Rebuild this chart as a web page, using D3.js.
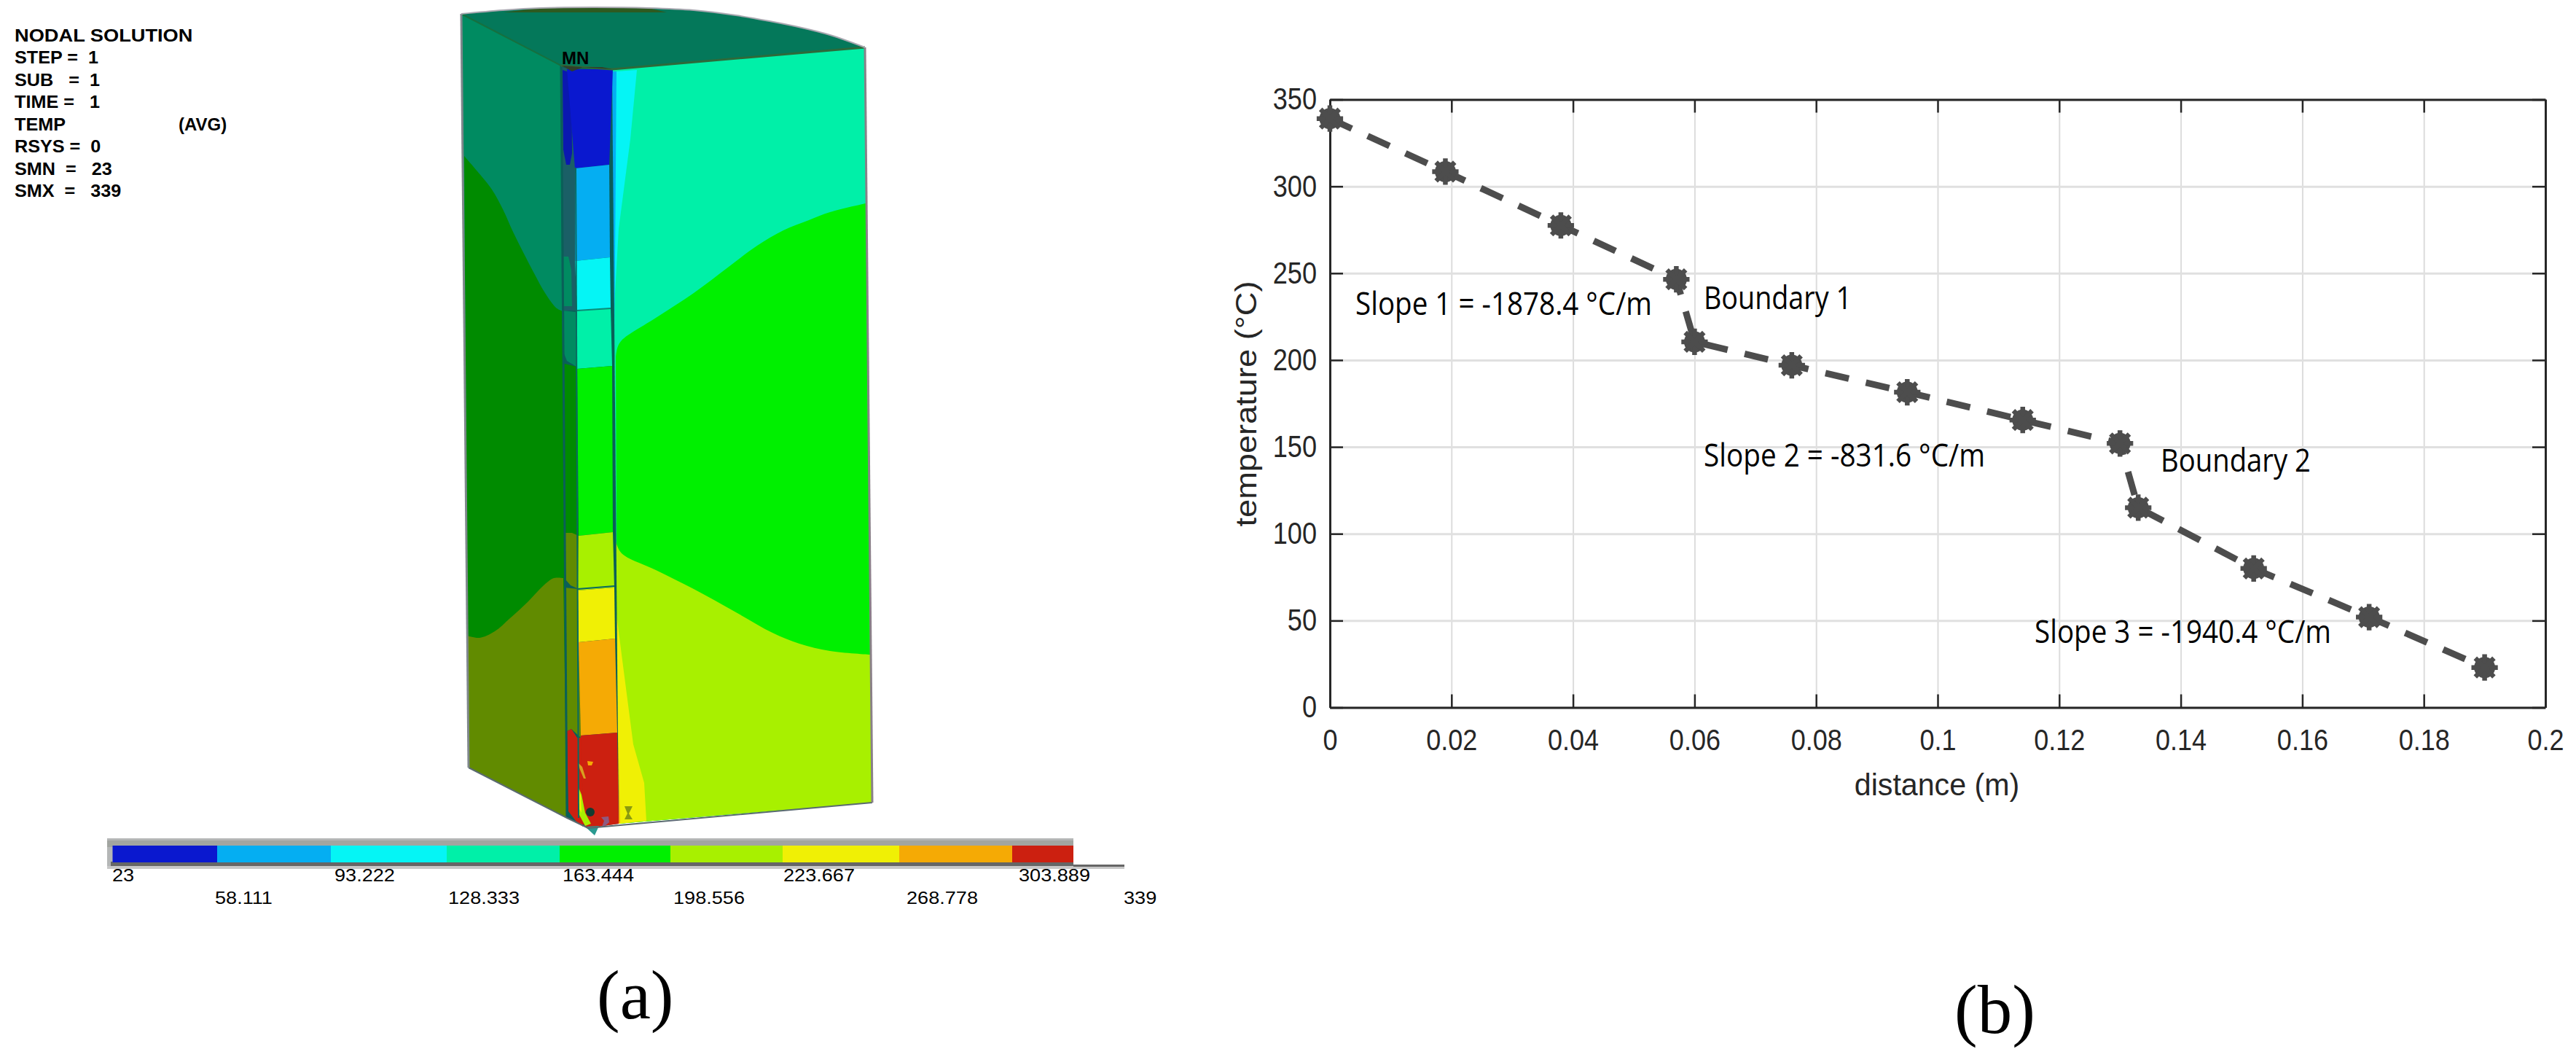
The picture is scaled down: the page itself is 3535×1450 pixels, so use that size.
<!DOCTYPE html>
<html>
<head>
<meta charset="utf-8">
<script src="https://cdn.jsdelivr.net/npm/d3@7"></script>
<style>
  html, body { margin: 0; padding: 0; background: #fff; }
  svg { display: block; }
  text { white-space: pre; }
</style>
</head>
<body>
<div id="chart"></div>
<script>
// temperature profile (panel b)
var distance = [0, 0.019, 0.038, 0.057, 0.06, 0.076, 0.095, 0.114, 0.13, 0.133, 0.152, 0.171, 0.19];
var temperature = [339, 308.5, 277.5, 246.5, 210.5, 197, 181.5, 165.5, 152, 115, 80, 52, 23];
var xTicks = [0, 0.02, 0.04, 0.06, 0.08, 0.1, 0.12, 0.14, 0.16, 0.18, 0.2];
var xTickLabels = ['0', '0.02', '0.04', '0.06', '0.08', '0.1', '0.12', '0.14', '0.16', '0.18', '0.2'];
var yTicks = [0, 50, 100, 150, 200, 250, 300, 350];
var slopeNotes = ['Slope 1 = -1878.4 °C/m', 'Boundary 1', 'Slope 2 = -831.6 °C/m', 'Boundary 2', 'Slope 3 = -1940.4 °C/m'];

// contour legend (panel a)
var bandValues = [23, 58.111, 93.222, 128.333, 163.444, 198.556, 233.667, 268.778, 303.889, 324];
var bandColors = ['#0a18cf', '#05aef2', '#05f5f5', '#00f0a8', '#00f000', '#a8f000', '#f0f005', '#f5aa05', '#cc2010'];
var bandLabels = ['23', '58.111', '93.222', '128.333', '163.444', '198.556', '223.667', '268.778', '303.889', '339'];
var headerLines = ['NODAL SOLUTION', 'STEP =  1', 'SUB   =  1', 'TIME =   1', 'TEMP', 'RSYS =  0', 'SMN  =   23', 'SMX  =   339'];

// FEA outline, in page pixels
var leftFaceOutline = [[633, 19], [770, 90], [778, 1122], [643, 1053]];
var topArc = [[633, 19], [690, 14], [741, 11], [815, 10], [890, 11], [952, 14], [1010, 21], [1056, 29], [1100, 38], [1139, 48], [1187, 65]];
var rightFaceOutline = [[840, 95], [1187, 65], [1197, 1101], [848, 1130]];
var columnBase = [[770, 90], [840, 95], [849, 1130], [807, 1136], [778, 1122]];
var leftGreenContour = [[637, 214], [655, 235], [675, 260], [690, 287], [704, 318], [720, 350], [733, 375], [748, 402], [764, 423], [773, 427]];
var leftOliveContour = [[641, 872], [658, 875], [679, 866], [700, 848], [724, 826], [745, 804], [760, 793], [773, 793]];
var rightGreenContour = [[845, 490], [847, 478], [853, 467], [900, 436], [952, 402], [1000, 366], [1039, 337], [1075, 316], [1110, 302], [1139, 291], [1188, 279]];
var rightLimeContour = [[845, 743], [853, 759], [900, 782], [952, 808], [1010, 840], [1060, 868], [1097, 883], [1139, 893], [1194, 898]];
var cyanWedge = [[845, 98], [874, 96], [865, 191], [849, 314], [843, 420]];
var blueSliver = [[840, 98], [846, 98], [843, 480], [841, 480]];
var yellowWedge = [[845, 835], [853, 898], [869, 1021], [884, 1074], [887, 1126], [848, 1130]];
var orangeSliver = [[845, 860], [848, 1000], [851, 1129], [847, 1130]];
var columnBands = [
  { band: 0, top: [[778, 95], [841, 95]] },
  { band: 1, top: [[789, 231], [836, 226]] },
  { band: 2, top: [[789, 358], [837, 353]] },
  { band: 3, top: [[792, 426], [838, 423]] },
  { band: 4, top: [[792, 506], [840, 502]] },
  { band: 5, top: [[794, 735], [841, 730]] },
  { band: 6, top: [[793, 810], [843, 806]] },
  { band: 7, top: [[794, 881], [844, 876]] },
  { band: 8, top: [[797, 1009], [847, 1005]] }
];
var columnFoot = [[849, 1130], [807, 1136], [790, 1122]];
var stripDarkTeal = [[770, 92], [790, 96], [791, 426], [771, 426]];
var stripBlue = [[772, 96], [784, 100], [785, 210], [782, 226], [777, 226], [773, 205]];
var stripTealUpper = [[772, 352], [780, 352], [784, 370], [785, 420], [774, 420], [771, 390]];
var stripTealLower = [[771, 426], [791, 428], [791, 503], [778, 495], [772, 480]];
var stripGreen = [[771, 498], [791, 503], [794, 735], [774, 735]];
var stripOliveOval = [[775, 731], [785, 731], [794, 735], [794, 808], [783, 803], [776, 795], [774, 770]];
var stripOlive = [[774, 806], [794, 808], [797, 1012], [784, 1000], [778, 1003]];
var stripRed = [[778, 1003], [784, 1000], [792, 1012], [798, 1012], [800, 1134], [790, 1126], [780, 1113]];
var topSliver = [[691, 17], [741, 11], [890, 11], [915, 17]];
var flameLime = [[793, 1078], [798, 1090], [803, 1115], [811, 1130], [803, 1133], [795, 1118]];
var flameYellow = [[793, 1078], [797, 1092], [798, 1115], [795, 1110]];
var curlOrange = [[793, 1046], [799, 1052], [804, 1068], [801, 1068], [796, 1056]];
var dotOrange = [[806, 1044], [814, 1045], [812, 1050], [807, 1050]];
var triadMark = [[857, 1106], [868, 1106], [863, 1116], [868, 1124], [857, 1124], [861, 1116]];
var purpleMark = [[825, 1121], [835, 1120], [836, 1128], [830, 1133], [826, 1134], [829, 1126]];
var tailMark = [[803, 1134], [822, 1133], [816, 1146]];

var width = 3535;
var height = 1450;

var svg = d3.select('#chart').append('svg')
  .attr('width', width)
  .attr('height', height)
  .attr('viewBox', '0 0 ' + width + ' ' + height);

// squeeze or stretch text the way the source artwork did
function fit(selection, k){
  selection.each(function(){
    var len = this.getComputedTextLength();
    d3.select(this).attr('textLength', len * k).attr('lengthAdjust', 'spacingAndGlyphs');
  });
}

function shade(color, k){
  var c = d3.rgb(color);
  return d3.rgb(c.r * k, c.g * k, c.b * k).formatHex();
}

var poly = d3.line();
var smooth = d3.line().curve(d3.curveCatmullRom);

function fillPoly(g, pts, color){
  return g.append('path').attr('d', poly(pts) + 'Z').attr('fill', color);
}

// contour curve closed through the face corners
function fillContour(g, curve, corners, color){
  var d = smooth(curve) + corners.map(function(p){ return 'L' + p[0] + ',' + p[1] }).join('') + 'Z';
  return g.append('path').attr('d', d).attr('fill', color);
}

/* ---------- panel a: header ---------- */
var header = svg.append('g')
  .attr('font-family', '"Liberation Sans", Arial, sans-serif')
  .attr('font-weight', 'bold')
  .attr('font-size', 24)
  .attr('fill', '#000');

var headerY = d3.scalePoint().domain(headerLines).range([57, 270]);

header.selectAll('text')
  .data(headerLines)
  .enter()
  .append('text')
  .attr('x', 20)
  .attr('y', function(d){ return headerY(d) })
  .text(function(d){ return d })
  .call(fit, 1.05);
fit(header.select('text'), 1.08);

header.append('text').attr('x', 245).attr('y', headerY('TEMP')).text('(AVG)');

/* ---------- panel a: solid ---------- */
var solid = svg.append('g');
var leftShade = 0.58;
var topShade = 0.5;

fillPoly(solid, leftFaceOutline, shade(bandColors[3], leftShade));
fillContour(solid, leftGreenContour, [[778, 1122], [643, 1053]], shade(bandColors[4], leftShade));
fillContour(solid, leftOliveContour, [[778, 1122], [643, 1053]], shade(bandColors[5], leftShade));

fillContour(solid, topArc, [[840, 95], [770, 90]], '#04785a');
fillPoly(solid, topSliver, '#2e5a20');

fillPoly(solid, rightFaceOutline, bandColors[3]);
fillPoly(solid, cyanWedge, bandColors[2]);
fillPoly(solid, blueSliver, bandColors[1]);
fillContour(solid, rightGreenContour, [[1197, 1101], [848, 1130]], bandColors[4]);
fillContour(solid, rightLimeContour, [[1197, 1101], [848, 1130]], bandColors[5]);
fillPoly(solid, yellowWedge, bandColors[6]);
fillPoly(solid, orangeSliver, bandColors[7]);

// underlay so no paper shows between the column pieces
fillPoly(solid, columnBase, '#0a5f58');
fillPoly(solid, stripDarkTeal, '#1a5f66');
fillPoly(solid, stripBlue, '#0a18b0');
fillPoly(solid, stripTealUpper, shade(bandColors[3], leftShade));
fillPoly(solid, stripTealLower, shade(bandColors[3], leftShade));
fillPoly(solid, stripGreen, shade(bandColors[4], leftShade));
fillPoly(solid, stripOlive, shade(bandColors[5], leftShade));
fillPoly(solid, stripOliveOval, shade(bandColors[5], leftShade));

// column bands are painted top down, each one over the last
columnBands.forEach(function(b, i){
  var next = columnBands[i + 1];
  var bottom = next ? next.top.slice().reverse() : columnFoot;
  fillPoly(solid, b.top.concat(bottom), bandColors[b.band]);
});
fillPoly(solid, stripRed, bandColors[8]);

fillPoly(solid, flameLime, bandColors[5]);
fillPoly(solid, flameYellow, bandColors[6]);
fillPoly(solid, curlOrange, '#d8a020');
fillPoly(solid, dotOrange, bandColors[7]);
fillPoly(solid, triadMark, '#8a9a10');
fillPoly(solid, purpleMark, '#8e5a80');
fillPoly(solid, tailMark, '#2a9a90');
solid.append('circle').attr('cx', 810).attr('cy', 1114).attr('r', 6).attr('fill', '#123c30');

// mesh edges
var edges = [
  { pts: [[770, 90], [778, 1122]], color: '#0a5f58', w: 3 },
  { pts: [[790, 230], [794, 1122]], color: '#0a6a60', w: 2 },
  { pts: [[770, 90], [840, 95], [1187, 65]], color: '#2d6a3a', w: 3 },
  { pts: [[633, 19], [770, 90]], color: '#16703f', w: 2 },
  { pts: [[792, 426], [838, 423]], color: '#0a8a78', w: 2 },
  { pts: [[793, 808], [843, 804]], color: '#0a6a60', w: 2 },
  { pts: [[643, 1053], [778, 1122], [807, 1136], [1197, 1101]], color: '#5a6a70', w: 2 },
  { pts: [[633, 19], [643, 1053]], color: '#7f878c', w: 3 },
  { pts: [[1187, 65], [1197, 1101]], color: '#8a8088', w: 3 }
];
solid.selectAll('path.edge')
  .data(edges)
  .enter()
  .append('path')
  .attr('class', 'edge')
  .attr('d', function(d){ return poly(d.pts) })
  .attr('fill', 'none')
  .attr('stroke', function(d){ return d.color })
  .attr('stroke-width', function(d){ return d.w });

solid.append('path')
  .attr('d', smooth(topArc))
  .attr('fill', 'none')
  .attr('stroke', '#a8a8b0')
  .attr('stroke-width', 2);

solid.append('path')
  .attr('d', poly([[771, 90], [785, 98], [800, 92], [826, 92], [840, 95]]) + 'Z')
  .attr('fill', '#2f3f2a');

solid.append('text')
  .attr('x', 771)
  .attr('y', 88)
  .attr('font-family', '"Liberation Sans", Arial, sans-serif')
  .attr('font-weight', 'bold')
  .attr('font-size', 24)
  .attr('fill', '#000')
  .text('MN');

/* ---------- panel a: contour legend ---------- */
var legend = svg.append('g');
var barStops = [154.5, 298, 454, 613, 768, 920, 1074, 1234, 1389, 1473];
var barX = d3.scaleLinear().domain(bandValues).range(barStops);

legend.append('rect').attr('x', 147).attr('y', 1150).attr('width', 1326).attr('height', 38).attr('fill', '#b4b6b6');
legend.append('rect').attr('x', 147).attr('y', 1153).attr('width', 1326).attr('height', 9).attr('fill', '#a2a5a0');
legend.append('rect').attr('x', 152).attr('y', 1182).attr('width', 1321).attr('height', 6).attr('fill', '#666');
legend.append('rect').attr('x', 147).attr('y', 1188).attr('width', 1396).attr('height', 4).attr('fill', '#c8c8c8');
legend.append('rect').attr('x', 1473).attr('y', 1186).attr('width', 70).attr('height', 3).attr('fill', '#666');

legend.selectAll('rect.band')
  .data(bandColors)
  .enter()
  .append('rect')
  .attr('class', 'band')
  .attr('x', function(d, i){ return barX(bandValues[i]) })
  .attr('y', 1160)
  .attr('width', function(d, i){ return barX(bandValues[i + 1]) - barX(bandValues[i]) })
  .attr('height', 23)
  .attr('fill', function(d){ return d });

var bandLabelX = d3.scaleOrdinal().domain(bandLabels)
  .range([154, 295, 459, 615, 772, 924, 1075, 1244, 1398, 1542]);

legend.selectAll('text')
  .data(bandLabels)
  .enter()
  .append('text')
  .attr('x', function(d){ return bandLabelX(d) })
  .attr('y', function(d, i){ return i % 2 ? 1240 : 1209 })
  .attr('font-family', '"Liberation Sans", Arial, sans-serif')
  .attr('font-size', 24)
  .attr('fill', '#000')
  .text(function(d){ return d })
  .call(fit, 1.13);

/* ---------- panel b: temperature plot ---------- */
var plot = { left: 1825, right: 3493, top: 136.5, bottom: 970.5 };

var x = d3.scaleLinear().domain([0, 0.2]).range([plot.left, plot.right]);
var y = d3.scaleLinear().domain([0, 350]).range([plot.bottom, plot.top]);

var chart = svg.append('g').attr('font-family', '"Liberation Sans", Arial, sans-serif');

var xGrid = chart.append('g')
  .attr('transform', 'translate(0,' + plot.bottom + ')')
  .call(d3.axisBottom(x).tickValues(xTicks).tickSize(plot.top - plot.bottom).tickSizeOuter(0).tickFormat(''));
xGrid.select('.domain').remove();
xGrid.selectAll('line').attr('stroke', '#dcdcdc').attr('stroke-width', 2);

var yGrid = chart.append('g')
  .attr('transform', 'translate(' + plot.left + ',0)')
  .call(d3.axisLeft(y).tickValues(yTicks).tickSize(plot.left - plot.right).tickSizeOuter(0).tickFormat(''));
yGrid.select('.domain').remove();
yGrid.selectAll('line').attr('stroke', '#e0e0e0').attr('stroke-width', 3);

var tickLen = 18;
var inkColor = '#262626';

function styleAxis(g){
  g.select('.domain').attr('stroke', inkColor).attr('stroke-width', 3);
  g.selectAll('.tick line').attr('stroke', inkColor).attr('stroke-width', 2.5);
  g.selectAll('.tick text').attr('fill', inkColor);
}

var xAxis = chart.append('g')
  .attr('transform', 'translate(0,' + plot.bottom + ')')
  .call(d3.axisBottom(x).tickValues(xTicks).tickSize(-tickLen).tickSizeOuter(0).tickPadding(30)
    .tickFormat(function(d, i){ return xTickLabels[i] }))
  .call(styleAxis);
xAxis.selectAll('.tick text').attr('font-size', 40).call(fit, 0.9);

var yAxis = chart.append('g')
  .attr('transform', 'translate(' + plot.left + ',0)')
  .call(d3.axisLeft(y).tickValues(yTicks).tickSize(-tickLen).tickSizeOuter(0).tickPadding(18).tickFormat(d3.format('d')))
  .call(styleAxis);
yAxis.selectAll('.tick text').attr('font-size', 42).call(fit, 0.86);

chart.append('g')
  .attr('transform', 'translate(0,' + plot.top + ')')
  .call(d3.axisTop(x).tickValues(xTicks).tickSize(-tickLen).tickSizeOuter(0).tickFormat(''))
  .call(styleAxis);
chart.append('g')
  .attr('transform', 'translate(' + plot.right + ',0)')
  .call(d3.axisRight(y).tickValues(yTicks).tickSize(-tickLen).tickSizeOuter(0).tickFormat(''))
  .call(styleAxis);

chart.append('text')
  .attr('x', 2658)
  .attr('y', 1091)
  .attr('text-anchor', 'middle')
  .attr('font-size', 42)
  .attr('fill', inkColor)
  .text('distance (m)')
  .call(fit, 0.98);

chart.append('text')
  .attr('transform', 'translate(1724,554) rotate(-90)')
  .attr('text-anchor', 'middle')
  .attr('font-size', 40)
  .attr('fill', inkColor)
  .text('temperature (°C)')
  .call(fit, 1.13);

var points = distance.map(function(d, i){ return { x: d, t: temperature[i] } });
var markColor = '#4d4d4d';

var profile = d3.line()
  .x(function(d){ return x(d.x) })
  .y(function(d){ return y(d.t) });

chart.append('path')
  .datum(points)
  .attr('d', profile)
  .attr('fill', 'none')
  .attr('stroke', markColor)
  .attr('stroke-width', 9)
  .attr('stroke-dasharray', '33 24');

var markers = chart.selectAll('g.marker')
  .data(points)
  .enter()
  .append('g')
  .attr('class', 'marker')
  .attr('transform', function(d){ return 'translate(' + x(d.x) + ',' + y(d.t) + ')' });

markers.append('circle').attr('r', 14.5).attr('fill', markColor);
[d3.symbolPlus, d3.symbolTimes].forEach(function(sym){
  markers.append('path')
    .attr('d', d3.symbol().type(sym).size(430))
    .attr('fill', 'none')
    .attr('stroke', markColor)
    .attr('stroke-width', 6.5);
});

var noteX = d3.scaleOrdinal().domain(slopeNotes).range([1860, 2338, 2338, 2965, 2792]);
var noteY = d3.scaleOrdinal().domain(slopeNotes).range([432, 424, 640, 647, 882]);
var noteWidth = d3.scaleOrdinal().domain(slopeNotes).range([407, 203, 386, 206, 407]);

chart.selectAll('text.note')
  .data(slopeNotes)
  .enter()
  .append('text')
  .attr('class', 'note')
  .attr('x', function(d){ return noteX(d) })
  .attr('y', function(d){ return noteY(d) })
  .attr('font-family', '"Open Sans", sans-serif')
  .attr('font-size', 43)
  .attr('fill', '#000')
  .attr('textLength', function(d){ return noteWidth(d) })
  .attr('lengthAdjust', 'spacingAndGlyphs')
  .text(function(d){ return d });

/* ---------- panel captions ---------- */
var captions = svg.append('g')
  .attr('font-family', '"Liberation Serif", "Times New Roman", serif')
  .attr('font-size', 95)
  .attr('fill', '#000');
captions.append('text').attr('x', 819).attr('y', 1397).text('(a)');
captions.append('text').attr('x', 2682).attr('y', 1417).text('(b)');
</script>
</body>
</html>
